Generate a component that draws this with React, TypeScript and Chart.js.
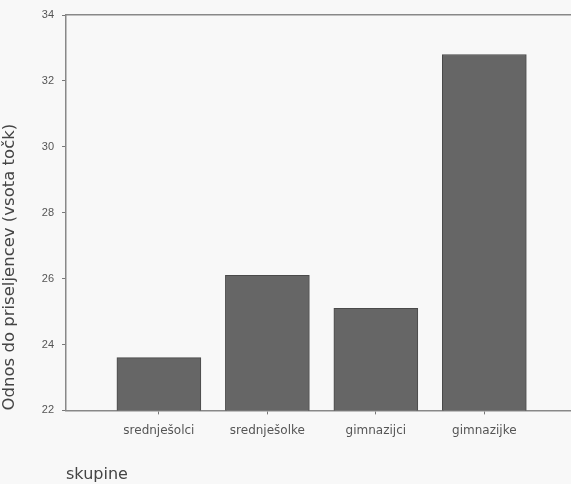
import React, { useEffect, useRef } from "react";
import { Chart, registerables } from "chart.js";

Chart.register(...registerables);

const categories = ["srednješolci", "srednješolke", "gimnazijci", "gimnazijke"];
const values = [23.6, 26.1, 25.1, 32.8];
const yTicks = [22, 24, 26, 28, 30, 32, 34];
const yTitle = "Odnos do priseljencev (vsota točk)";
const xTitle = "skupine";

export default function App() {
  const ref = useRef<HTMLCanvasElement | null>(null);

  useEffect(() => {
    document.body.style.margin = "0";
    document.body.style.background = "#f8f8f8";
    const ctx = ref.current!;
    const chart = new Chart(ctx, {
      type: "bar",
      data: {
        datasets: [
          {
            data: values.map((v, i) => ({ x: i, y: v })),
            backgroundColor: "#666666",
            borderColor: "#4a4a4a",
            borderWidth: 1,
            barThickness: 84,
          },
        ],
      },
      options: {
        animation: false,
        responsive: false,
        maintainAspectRatio: false,
        layout: { padding: { top: 15, right: 0, left: 0, bottom: 0 } },
        plugins: {
          legend: { display: false },
          tooltip: { enabled: false },
        },
        scales: {
          x: {
            type: "linear",
            offset: false,
            min: -0.856,
            max: 3.799,
            afterBuildTicks: (axis: any) => {
              axis.ticks = categories.map((_, i) => ({ value: i }));
            },
            ticks: {
              autoSkip: false,
              maxRotation: 0,
              color: "#555",
              font: { family: "DejaVu Sans", size: 12 },
              padding: 9,
              callback: (v: any) => categories[Math.round(Number(v))] ?? "",
            },
            grid: {
              display: true,
              offset: false,
              drawOnChartArea: false,
              drawTicks: true,
              tickLength: 4,
              color: "#777",
            },
            border: { display: true, color: "#888", width: 1.5 },
            title: {
              display: true,
              text: xTitle,
              align: "start",
              color: "#444",
              font: { family: "DejaVu Sans", size: 16 },
              padding: { top: 18, bottom: 0 },
            },
          },
          xTop: {
            type: "linear",
            position: "top",
            offset: false,
            min: 0,
            max: 1,
            ticks: { display: false },
            grid: { display: false, drawTicks: false },
            border: { display: true, color: "#888", width: 1.5 },
          },
          y: {
            min: 22,
            max: 34,
            afterBuildTicks: (axis: any) => {
              axis.ticks = yTicks.map((v) => ({ value: v }));
            },
            ticks: {
              color: "#555",
              font: { family: "Liberation Sans", size: 11 },
              padding: 8,
            },
            grid: {
              display: true,
              drawOnChartArea: false,
              drawTicks: true,
              tickLength: 4,
              color: "#777",
            },
            border: { display: true, color: "#888", width: 1.5 },
            title: {
              display: true,
              text: yTitle,
              align: "start",
              color: "#444",
              font: { family: "DejaVu Sans", size: 16.5 },
              padding: { top: 0, bottom: 14 },
            },
          },
        },
      },
    } as any);
    return () => chart.destroy();
  }, []);

  return (
    <div style={{ position: "fixed", left: 0, top: 0, width: 571, height: 484, background: "#f8f8f8" }}>
      <canvas ref={ref} width={571} height={484} style={{ width: 571, height: 484, display: "block" }} />
    </div>
  );
}
